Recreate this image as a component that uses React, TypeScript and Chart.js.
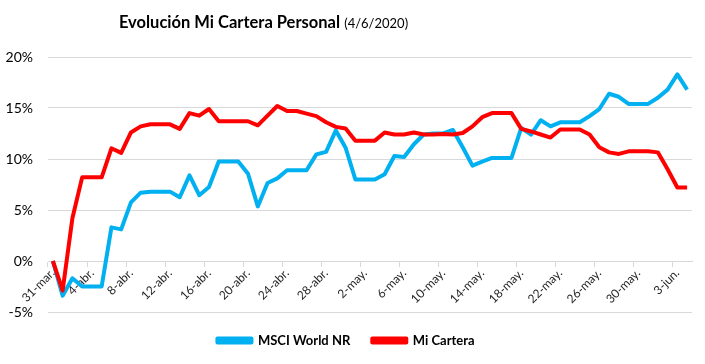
import React, { useEffect, useRef } from "react";
import { Chart, registerables } from "chart.js";

Chart.register(...registerables);

const dateLabels: string[] = [
  "31-mar.",
  "1-abr.", "2-abr.", "3-abr.", "4-abr.", "5-abr.", "6-abr.", "7-abr.", "8-abr.", "9-abr.", "10-abr.",
  "11-abr.", "12-abr.", "13-abr.", "14-abr.", "15-abr.", "16-abr.", "17-abr.", "18-abr.", "19-abr.", "20-abr.",
  "21-abr.", "22-abr.", "23-abr.", "24-abr.", "25-abr.", "26-abr.", "27-abr.", "28-abr.", "29-abr.", "30-abr.",
  "1-may.", "2-may.", "3-may.", "4-may.", "5-may.", "6-may.", "7-may.", "8-may.", "9-may.", "10-may.",
  "11-may.", "12-may.", "13-may.", "14-may.", "15-may.", "16-may.", "17-may.", "18-may.", "19-may.", "20-may.",
  "21-may.", "22-may.", "23-may.", "24-may.", "25-may.", "26-may.", "27-may.", "28-may.", "29-may.", "30-may.",
  "31-may.", "1-jun.", "2-jun.", "3-jun.", "4-jun.",
];

const msciWorld: number[] = [
  0, -3.4, -1.7, -2.5, -2.5, -2.5, 3.3, 3.1, 5.75, 6.7,
  6.8, 6.8, 6.8, 6.25, 8.4, 6.45, 7.25, 9.75, 9.75, 9.75,
  8.55, 5.35, 7.65, 8.1, 8.9, 8.9, 8.9, 10.45, 10.7, 12.8,
  11.1, 8.0, 8.0, 8.0, 8.5, 10.3, 10.2, 11.45, 12.4, 12.5,
  12.5, 12.85, 11.15, 9.35, 9.75, 10.1, 10.1, 10.1, 13.05, 12.4,
  13.8, 13.2, 13.6, 13.6, 13.6, 14.2, 14.9, 16.4, 16.1, 15.4,
  15.4, 15.4, 16.0, 16.8, 18.3, 16.8,
];

const miCartera: number[] = [
  0, -2.9, 4.2, 8.2, 8.2, 8.2, 11.05, 10.6, 12.6, 13.2,
  13.4, 13.4, 13.4, 12.95, 14.5, 14.25, 14.9, 13.7, 13.7, 13.7,
  13.7, 13.3, 14.25, 15.2, 14.7, 14.7, 14.45, 14.2, 13.6, 13.15,
  13.0, 11.8, 11.8, 11.8, 12.6, 12.4, 12.4, 12.6, 12.4, 12.4,
  12.45, 12.4, 12.55, 13.2, 14.1, 14.5, 14.5, 14.5, 12.95, 12.7,
  12.4, 12.1, 12.9, 12.9, 12.9, 12.4, 11.15, 10.65, 10.5, 10.75,
  10.75, 10.75, 10.65, 9.0, 7.2, 7.2,
];

const seriesNames = ["MSCI World NR", "Mi Cartera"];
const titleMain = "Evolución Mi Cartera Personal";
const titleDate = "(4/6/2020)";

const FONT = "Lato, 'Open Sans', sans-serif";
const GRID = "#d9d9d9";

export default function App() {
  const ref = useRef<HTMLCanvasElement | null>(null);

  useEffect(() => {
    document.body.style.margin = "0";
    if (!ref.current) return;
    const chart = new Chart(ref.current, {
      type: "line",
      data: {
        labels: dateLabels,
        datasets: [
          {
            label: seriesNames[0],
            data: msciWorld,
            borderColor: "#00b0f0",
            backgroundColor: "#00b0f0",
            borderWidth: 4,
            pointRadius: 0,
            tension: 0,
            borderJoinStyle: "round",
            fill: false,
            order: 1,
          },
          {
            label: seriesNames[1],
            data: miCartera,
            borderColor: "#ff0000",
            backgroundColor: "#ff0000",
            borderWidth: 4,
            pointRadius: 0,
            tension: 0,
            borderJoinStyle: "round",
            fill: false,
            order: 0,
          },
        ],
      },
      options: {
        responsive: false,
        animation: false,
        layout: { padding: { top: 57, right: 13, left: 0, bottom: 7 } },
        plugins: {
          title: { display: false },
          tooltip: { enabled: false },
          legend: {
            position: "bottom",
            labels: {
              boxWidth: 34,
              boxHeight: 4,
              padding: 22,
              color: "#000",
              font: { family: FONT, size: 13, weight: "bold" },
              sort: (a: any, b: any) => a.datasetIndex - b.datasetIndex,
            },
          },
        },
        scales: {
          x: {
            type: "category",
            position: { y: 0 } as any,
            offset: true,
            grid: {
              offset: true,
              drawOnChartArea: false,
              drawTicks: true,
              tickLength: 5,
              tickColor: (ctx: any) => (ctx.index % 4 === 0 ? GRID : "rgba(0,0,0,0)"),
            },
            border: { display: true, color: GRID, width: 1 },
            ticks: {
              autoSkip: false,
              maxRotation: 45,
              minRotation: 45,
              padding: 0,
              color: "#262626",
              font: { family: FONT, size: 12 },
              callback: (_v: any, i: number) => (i % 4 === 0 ? dateLabels[i] : ""),
            },
          },
          y: {
            min: -5,
            max: 20,
            afterFit: (scale: any) => {
              scale.width = 48;
            },
            grid: { color: GRID, lineWidth: 1, drawTicks: false },
            border: { display: false },
            ticks: {
              stepSize: 5,
              padding: 15,
              color: "#000",
              font: { family: FONT, size: 14 },
              callback: (v: any) => `${v}%`,
            },
          },
        },
      },
    });
    return () => chart.destroy();
  }, []);

  return (
    <div style={{ position: "relative", width: 705, height: 364, background: "#fff" }}>
      <canvas ref={ref} width={705} height={364} style={{ display: "block" }} />
      <div
        style={{
          position: "absolute",
          top: 10,
          left: 0,
          width: 527,
          textAlign: "center",
          fontFamily: FONT,
          color: "#000",
          whiteSpace: "nowrap",
          lineHeight: "24px",
        }}
      >
        <span style={{ fontWeight: "bold", fontSize: 16.5 }}>{titleMain}</span>{" "}
        <span style={{ fontSize: 13 }}>{titleDate}</span>
      </div>
    </div>
  );
}
